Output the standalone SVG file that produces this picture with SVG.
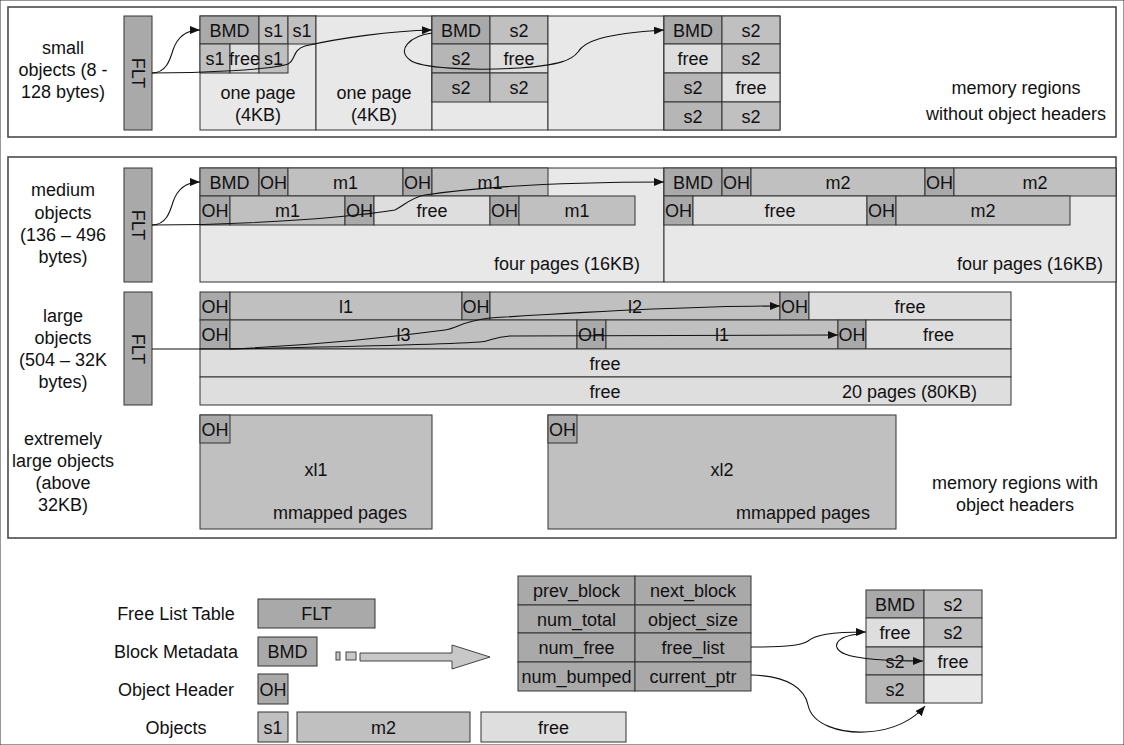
<svg xmlns="http://www.w3.org/2000/svg" width="1124" height="745" viewBox="0 0 1124 745">
<style>
rect{stroke:#333;stroke-width:1}
.panel{fill:#fff;stroke:#4a4a4a;stroke-width:1.6}
.dk{fill:#a9a9a9}
.ob{fill:#c0c0c0}
.o2{fill:#b6b6b6}
.fr{fill:#dedede}
.pg{fill:#e8e8e8}
.ar{fill:#c8c8c8;stroke:#444;stroke-width:1}
text{font-family:"Liberation Sans",Arial,Helvetica,sans-serif;font-size:18px;fill:#111;text-anchor:middle}
.e{text-anchor:end}
.c{fill:none;stroke:#111;stroke-width:1.1;marker-end:url(#ah)}
.l{fill:none;stroke:#111;stroke-width:1.1}
</style>
<defs>
<marker id="ah" viewBox="0 0 10 8" refX="10" refY="4" markerWidth="10" markerHeight="8" orient="auto" markerUnits="userSpaceOnUse"><path d="M0,0 L10,4 L0,8 z" fill="#111"/></marker>
</defs>
<rect x="0" y="0" width="1124" height="745" fill="#fff" stroke="none"/>

<!-- Small objects panel -->
<g id="panel-small">
<rect class="panel" x="8" y="7" width="1108" height="130"/>
<text x="63" y="54">small</text>
<text x="63" y="76">objects (8 -</text>
<text x="63" y="98">128 bytes)</text>
<text x="1016" y="94">memory regions</text>
<text x="1016" y="120">without object headers</text>
</g>
<g id="flt-small">
<rect class="dk" x="124" y="16" width="28" height="114"/>
<text transform="translate(138,73) rotate(90)" y="6.5">FLT</text>
</g>
<g id="page1">
<rect class="pg" x="200" y="16" width="116" height="114"/>
<rect class="dk" x="200" y="16" width="59" height="28"/>
<rect class="ob" x="259" y="16" width="29" height="28"/>
<rect class="ob" x="288" y="16" width="28" height="28"/>
<rect class="ob" x="200" y="44" width="30" height="29"/>
<rect class="fr" x="230" y="44" width="29" height="29"/>
<rect class="ob" x="259" y="44" width="29" height="29"/>
<text x="229.5" y="36.5">BMD</text>
<text x="273.5" y="36.5">s1</text>
<text x="302" y="36.5">s1</text>
<text x="215" y="65">s1</text>
<text x="244.5" y="65">free</text>
<text x="273.5" y="65">s1</text>
<text x="258" y="99">one page</text>
<text x="258" y="121">(4KB)</text>
</g>
<g id="page2">
<rect class="pg" x="316" y="16" width="116" height="114"/>
<text x="374" y="99">one page</text>
<text x="374" y="121">(4KB)</text>
</g>
<g id="page3">
<rect class="pg" x="432" y="16" width="116" height="114"/>
<rect class="dk" x="432" y="16" width="58" height="28"/>
<rect class="ob" x="490" y="16" width="58" height="28"/>
<rect class="o2" x="432" y="44" width="58" height="29"/>
<rect class="fr" x="490" y="44" width="58" height="29"/>
<rect class="o2" x="432" y="73" width="58" height="29"/>
<rect class="ob" x="490" y="73" width="58" height="29"/>
<text x="461" y="36.5">BMD</text>
<text x="519" y="36.5">s2</text>
<text x="461" y="65">s2</text>
<text x="519" y="65">free</text>
<text x="461" y="94">s2</text>
<text x="519" y="94">s2</text>
</g>
<g id="page4">
<rect class="pg" x="548" y="16" width="116" height="114"/>
</g>
<g id="page5">
<rect class="pg" x="664" y="16" width="116" height="114"/>
<rect class="dk" x="664" y="16" width="58" height="28"/>
<rect class="ob" x="722" y="16" width="58" height="28"/>
<rect class="fr" x="664" y="44" width="58" height="29"/>
<rect class="ob" x="722" y="44" width="58" height="29"/>
<rect class="o2" x="664" y="73" width="58" height="29"/>
<rect class="fr" x="722" y="73" width="58" height="29"/>
<rect class="o2" x="664" y="102" width="58" height="28"/>
<rect class="ob" x="722" y="102" width="58" height="28"/>
<text x="693" y="36.5">BMD</text>
<text x="751" y="36.5">s2</text>
<text x="693" y="65">free</text>
<text x="751" y="65">s2</text>
<text x="693" y="94">s2</text>
<text x="751" y="94">free</text>
<text x="693" y="122.5">s2</text>
<text x="751" y="122.5">s2</text>
</g>

<!-- Medium / large / xl panel -->
<g id="panel-headers">
<rect class="panel" x="8" y="157" width="1108" height="381"/>
<text x="63" y="196">medium</text>
<text x="63" y="219">objects</text>
<text x="63" y="241">(136 – 496</text>
<text x="63" y="263">bytes)</text>
<text x="63" y="322">large</text>
<text x="63" y="344">objects</text>
<text x="63" y="366">(504 – 32K</text>
<text x="63" y="388">bytes)</text>
<text x="63" y="445">extremely</text>
<text x="63" y="467">large objects</text>
<text x="63" y="489">(above</text>
<text x="63" y="511">32KB)</text>
<text x="1015" y="489">memory regions with</text>
<text x="1015" y="511">object headers</text>
</g>
<g id="flt-medium">
<rect class="dk" x="124" y="168" width="28" height="114"/>
<text transform="translate(138,225) rotate(90)" y="6.5">FLT</text>
</g>
<g id="medium-block1">
<rect class="pg" x="200" y="168" width="464" height="114"/>
<rect class="dk" x="200" y="168" width="59" height="28"/>
<rect class="dk" x="259" y="168" width="29" height="28"/>
<rect class="ob" x="288" y="168" width="115" height="28"/>
<rect class="dk" x="403" y="168" width="29" height="28"/>
<rect class="ob" x="432" y="168" width="116" height="28"/>
<rect class="dk" x="200" y="196" width="30" height="29"/>
<rect class="ob" x="230" y="196" width="115" height="29"/>
<rect class="dk" x="345" y="196" width="29" height="29"/>
<rect class="fr" x="374" y="196" width="116" height="29"/>
<rect class="dk" x="490" y="196" width="29" height="29"/>
<rect class="ob" x="519" y="196" width="116" height="29"/>
<text x="229.5" y="188.5">BMD</text>
<text x="273.5" y="188.5">OH</text>
<text x="345.5" y="188.5">m1</text>
<text x="417.5" y="188.5">OH</text>
<text x="490" y="188.5">m1</text>
<text x="215" y="217">OH</text>
<text x="287.5" y="217">m1</text>
<text x="359.5" y="217">OH</text>
<text x="432" y="217">free</text>
<text x="504.5" y="217">OH</text>
<text x="577" y="217">m1</text>
<text class="e" x="640" y="270">four pages (16KB)</text>
</g>
<g id="medium-block2">
<rect class="pg" x="664" y="168" width="452" height="114"/>
<rect class="dk" x="664" y="168" width="58" height="28"/>
<rect class="dk" x="722" y="168" width="29" height="28"/>
<rect class="ob" x="751" y="168" width="174" height="28"/>
<rect class="dk" x="925" y="168" width="29" height="28"/>
<rect class="ob" x="954" y="168" width="162" height="28"/>
<rect class="dk" x="664" y="196" width="29" height="29"/>
<rect class="fr" x="693" y="196" width="174" height="29"/>
<rect class="dk" x="867" y="196" width="29" height="29"/>
<rect class="ob" x="896" y="196" width="174" height="29"/>
<text x="693" y="188.5">BMD</text>
<text x="736.5" y="188.5">OH</text>
<text x="838" y="188.5">m2</text>
<text x="939.5" y="188.5">OH</text>
<text x="1035" y="188.5">m2</text>
<text x="678.5" y="217">OH</text>
<text x="780" y="217">free</text>
<text x="881.5" y="217">OH</text>
<text x="983" y="217">m2</text>
<text class="e" x="1103" y="270">four pages (16KB)</text>
</g>
<g id="flt-large">
<rect class="dk" x="124" y="292" width="28" height="113"/>
<text transform="translate(138,349) rotate(90)" y="6.5">FLT</text>
</g>
<g id="large-block">
<rect class="dk" x="200" y="292" width="30" height="28"/>
<rect class="ob" x="230" y="292" width="232" height="28"/>
<rect class="dk" x="462" y="292" width="28" height="28"/>
<rect class="ob" x="490" y="292" width="290" height="28"/>
<rect class="dk" x="780" y="292" width="29" height="28"/>
<rect class="fr" x="809" y="292" width="202" height="28"/>
<rect class="dk" x="200" y="320" width="30" height="29"/>
<rect class="ob" x="230" y="320" width="347" height="29"/>
<rect class="dk" x="577" y="320" width="29" height="29"/>
<rect class="ob" x="606" y="320" width="232" height="29"/>
<rect class="dk" x="838" y="320" width="28" height="29"/>
<rect class="fr" x="866" y="320" width="145" height="29"/>
<rect class="fr" x="200" y="349" width="811" height="28"/>
<rect class="fr" x="200" y="377" width="811" height="28"/>
<text x="215" y="312.5">OH</text>
<text x="346" y="312.5">l1</text>
<text x="476" y="312.5">OH</text>
<text x="635" y="312.5">l2</text>
<text x="794.5" y="312.5">OH</text>
<text x="910" y="312.5">free</text>
<text x="215" y="341">OH</text>
<text x="403.5" y="341">l3</text>
<text x="591.5" y="341">OH</text>
<text x="722" y="341">l1</text>
<text x="852" y="341">OH</text>
<text x="938.5" y="341">free</text>
<text x="605" y="369.5">free</text>
<text x="605" y="397.5">free</text>
<text class="e" x="977" y="397.5">20 pages (80KB)</text>
</g>
<g id="xl1">
<rect class="ob" x="200" y="415" width="232" height="114"/>
<rect class="dk" x="200" y="415" width="30" height="28"/>
<text x="215" y="435.5">OH</text>
<text x="316" y="476">xl1</text>
<text x="340" y="519">mmapped pages</text>
</g>
<g id="xl2">
<rect class="ob" x="548" y="415" width="348" height="114"/>
<rect class="dk" x="548" y="415" width="29" height="28"/>
<text x="562.5" y="435.5">OH</text>
<text x="722" y="476">xl2</text>
<text x="803" y="519">mmapped pages</text>
</g>

<!-- Legend -->
<g id="legend-flt">
<text x="176" y="619.5">Free List Table</text>
<rect class="dk" x="258" y="599" width="117" height="29"/>
<text x="316.5" y="620">FLT</text>
</g>
<g id="legend-bmd">
<text x="176" y="657.5">Block Metadata</text>
<rect class="dk" x="258" y="637" width="59" height="29"/>
<text x="287.5" y="658">BMD</text>
</g>
<g id="legend-oh">
<text x="176" y="695.5">Object Header</text>
<rect class="dk" x="258" y="674" width="30" height="30"/>
<text x="273" y="695.5">OH</text>
</g>
<g id="legend-objects">
<text x="176" y="733.5">Objects</text>
<rect class="ob" x="258" y="712" width="30" height="30"/>
<rect class="ob" x="297" y="712" width="173" height="30"/>
<rect class="fr" x="481" y="712" width="145" height="30"/>
<text x="273" y="733.5">s1</text>
<text x="383.5" y="733.5">m2</text>
<text x="553.5" y="733.5">free</text>
</g>
<g id="expand-arrow">
<rect class="ar" x="336" y="652" width="4" height="8"/>
<rect class="ar" x="346" y="652" width="10" height="8"/>
<polygon class="ar" points="360,653 452,653 452,645 490,657 452,669 452,661 360,661"/>
</g>
<g id="bmd-table">
<rect class="dk" x="518" y="576" width="117" height="29"/>
<rect class="dk" x="635" y="576" width="116" height="29"/>
<rect class="dk" x="518" y="605" width="117" height="28"/>
<rect class="dk" x="635" y="605" width="116" height="28"/>
<rect class="dk" x="518" y="633" width="117" height="29"/>
<rect class="dk" x="635" y="633" width="116" height="29"/>
<rect class="dk" x="518" y="662" width="117" height="29"/>
<rect class="dk" x="635" y="662" width="116" height="29"/>
<text x="576.5" y="597">prev_block</text>
<text x="693" y="597">next_block</text>
<text x="576.5" y="625.5">num_total</text>
<text x="693" y="625.5">object_size</text>
<text x="576.5" y="654">num_free</text>
<text x="693" y="654">free_list</text>
<text x="576.5" y="683">num_bumped</text>
<text x="693" y="683">current_ptr</text>
</g>
<g id="legend-block">
<rect class="dk" x="866" y="590" width="58" height="28"/>
<rect class="ob" x="924" y="590" width="58" height="28"/>
<rect class="fr" x="866" y="618" width="58" height="29"/>
<rect class="ob" x="924" y="618" width="58" height="29"/>
<rect class="o2" x="866" y="647" width="58" height="28"/>
<rect class="fr" x="924" y="647" width="58" height="28"/>
<rect class="o2" x="866" y="675" width="58" height="28"/>
<rect class="pg" x="924" y="675" width="58" height="28"/>
<text x="895" y="610.5">BMD</text>
<text x="953" y="610.5">s2</text>
<text x="895" y="639">free</text>
<text x="953" y="639">s2</text>
<text x="895" y="667.5">s2</text>
<text x="953" y="667.5">free</text>
<text x="895" y="695.5">s2</text>
</g>

<!-- Connectors -->
<g id="connectors">
<path class="c" d="M152,73 C166,73 170,60 173,50 C177,38 185,30 200,30"/>
<path class="c" d="M152,73 C200,73 270,70 288,64 C296,60 292,50 305,46 C340,38 390,31 432,30"/>
<path class="c" d="M432,33 C410,36 396,50 410,60 C420,68 470,71 520,68 C560,65 572,60 578,52 C584,42 600,34 664,30"/>
<path class="c" d="M152,225 C166,225 170,212 173,202 C177,190 185,182 200,182"/>
<path class="c" d="M152,225 C260,225 360,216 395,210 C405,205 410,198 425,195 C480,187 560,182 664,182"/>
<path class="l" d="M152,349 L230,349"/>
<path class="c" d="M230,349 C320,345 400,336 445,330 C458,328 462,321 490,318 C600,311 700,306 780,306"/>
<path class="c" d="M230,349 C330,347 450,344 480,342 C492,341 492,337 510,336 C600,335 700,335 838,335"/>
<path class="c" d="M751,647 C790,647 802,645 808,641 C815,635 830,632 866,632"/>
<path class="c" d="M860,634 C835,636 830,648 845,654 C860,660 890,661 923,661"/>
<path class="c" d="M751,675 C790,676 805,690 808,705 C812,725 840,733 865,732 C895,731 915,718 925,706"/>
</g>
</svg>
